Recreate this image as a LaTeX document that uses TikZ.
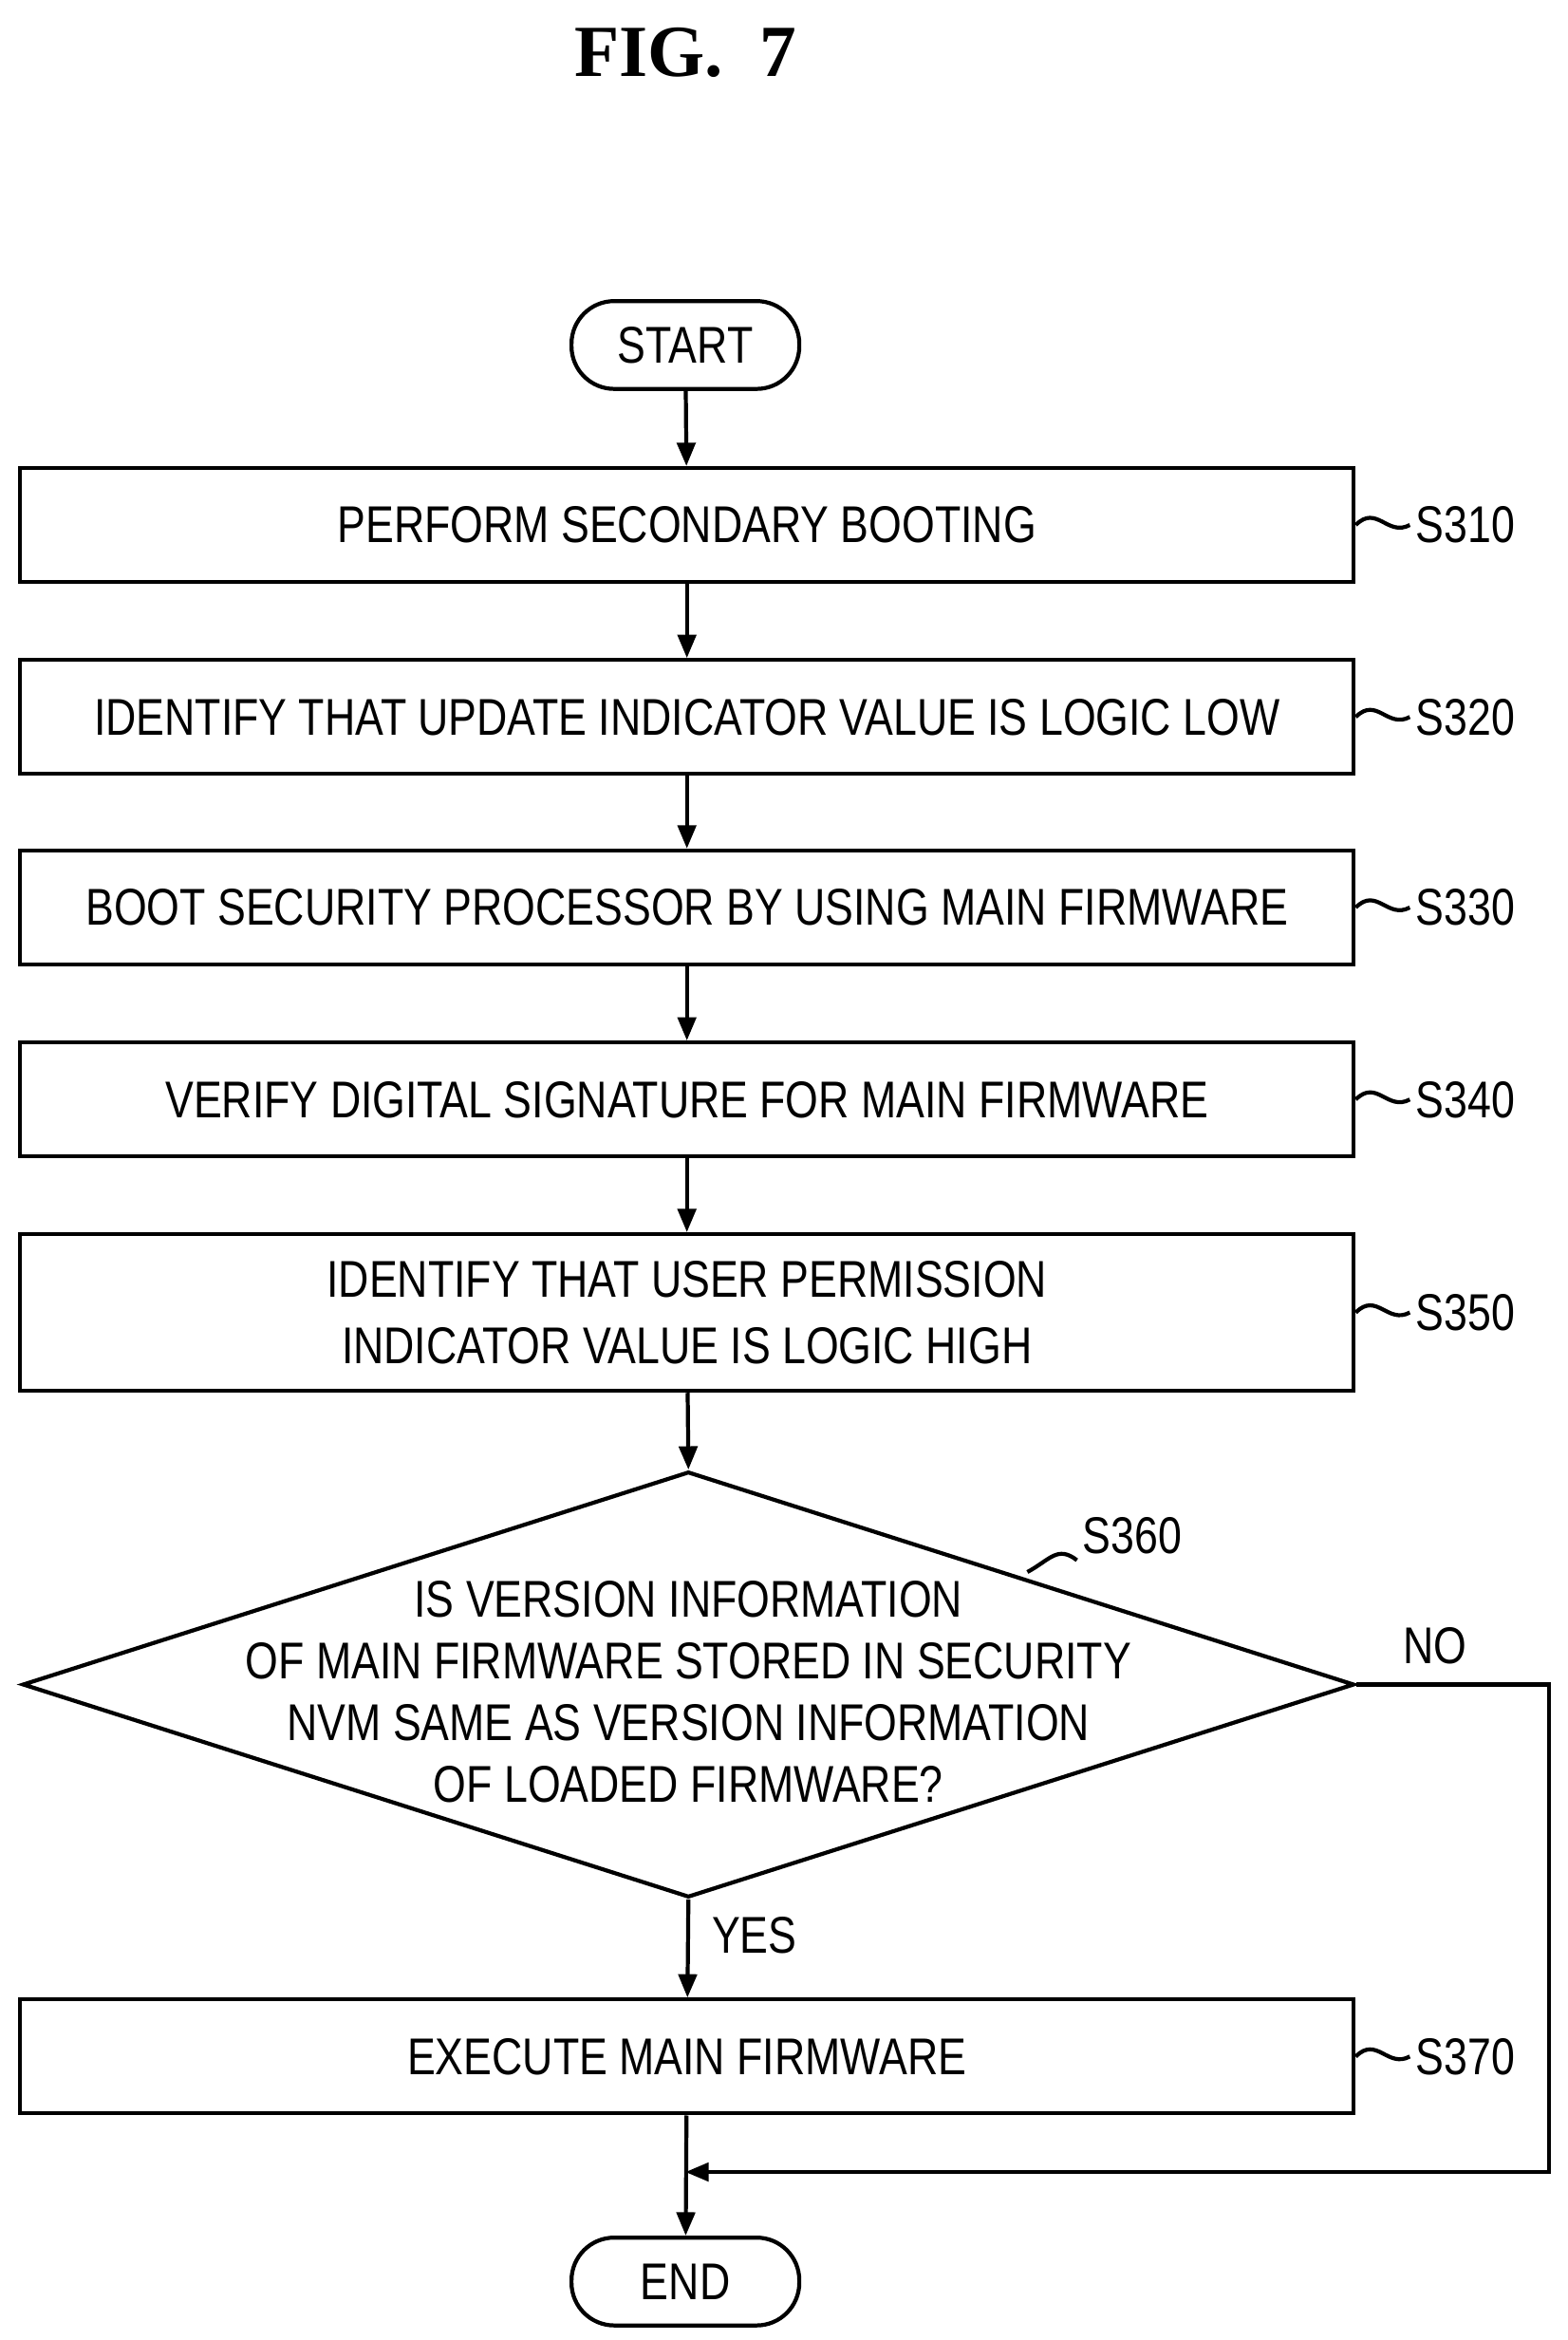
\documentclass[tikz,border=0pt]{standalone}
\usepackage{fontspec}
\setmainfont{Liberation Sans}[FakeStretch=0.82]
\newfontfamily\titlefont{Liberation Serif}
\usetikzlibrary{shapes,arrows.meta,positioning}
\tikzset{
  stepbox/.style = {draw, line width=2.4pt, minimum width=28.1cm, minimum height=2.4cm, align=center, font=\fontsize{31}{40}\selectfont},
  terminal/.style = {draw, line width=2.4pt, rounded corners=0.9cm, minimum width=4.8cm, minimum height=1.85cm, font=\fontsize{31}{40}\selectfont},
  flow/.style = {line width=2.4pt, -{Triangle[length=14pt,width=11pt]}},
  steplabel/.style = {font=\fontsize{31}{40}\selectfont, anchor=west},
  leader/.style = {line width=2.4pt},
}
\begin{document}
\begin{tikzpicture}[x=0.0316cm,y=-0.0316cm]
      \useasboundingbox (0,0) rectangle (1045,1560);
      \node[font=\titlefont\bfseries\fontsize{44}{50}\selectfont] (title) at (457,35) {FIG.\ \ 7};
      \node[terminal] (start) at (457,230) {START};
      \node[stepbox] (s310) at (458,350) {PERFORM SECONDARY BOOTING};
      \node[stepbox] (s320) at (458,478) {IDENTIFY THAT UPDATE INDICATOR VALUE IS LOGIC LOW};
      \node[stepbox] (s330) at (458,605) {BOOT SECURITY PROCESSOR BY USING MAIN FIRMWARE};
      \node[stepbox] (s340) at (458,733) {VERIFY DIGITAL SIGNATURE FOR MAIN FIRMWARE};
      \node[stepbox, minimum height=3.3cm] (s350) at (458,875) {IDENTIFY THAT USER PERMISSION\\INDICATOR VALUE IS LOGIC HIGH};
      \node[draw, diamond, line width=2.4pt, minimum width=28.06cm, minimum height=8.97cm, inner sep=0pt] (s360) at (459,1123) {};
      \node[align=center, font=\fontsize{31}{37}\selectfont] (q) at (459,1128) {IS VERSION INFORMATION\\OF MAIN FIRMWARE STORED IN SECURITY\\NVM SAME AS VERSION INFORMATION\\OF LOADED FIRMWARE?};
      \node[stepbox] (s370) at (458,1371) {EXECUTE MAIN FIRMWARE};
      \node[terminal] (end) at (457,1521) {END};
      \coordinate (join) at (457,1448);
      \coordinate (noturn) at (1033,1123);
      \coordinate (nodown) at (1033,1448);

      % step labels
      \foreach \s/\yy in {310/350, 320/478, 330/605, 340/733, 350/875, 370/1371} {
        \node[steplabel] (l\s) at (940,\yy) {S\s};
        \draw[leader] (s\s.east |- l\s) .. controls (918,\yy-14) and (925,\yy+8) .. (l\s.west);
      }
      \node[font=\fontsize{31}{40}\selectfont] (l360) at (755,1024) {S360};
      \draw[leader] (685,1048) .. controls (700,1040) and (705,1030) .. (l360.south west);
      \node[font=\fontsize{31}{40}\selectfont] (no) at (957,1097) {NO};
      \node[font=\fontsize{31}{40}\selectfont] (yes) at (503,1290) {YES};

      \draw[flow] (start) -- (s310);
      \draw[flow] (s310) -- (s320);
      \draw[flow] (s320) -- (s330);
      \draw[flow] (s330) -- (s340);
      \draw[flow] (s340) -- (s350);
      \draw[flow] (s350) -- (s360.north);
      \draw[flow] (s360.south) -- (s370);
      \draw[flow] (s370) -- (end);
      \draw[flow] (s360.east) -- (noturn) -- (nodown) -- (join);
\end{tikzpicture}
\end{document}
